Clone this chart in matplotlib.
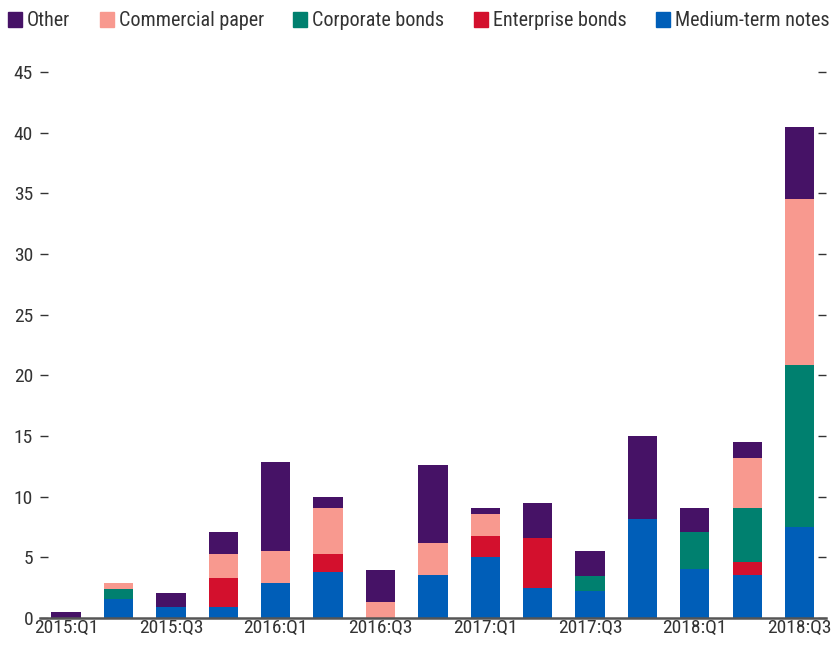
import numpy as np
import matplotlib
matplotlib.use("Agg")
import matplotlib.pyplot as plt
from matplotlib.patches import Patch

plt.rcParams['font.family'] = ['Roboto Condensed', 'Liberation Sans', 'DejaVu Sans']

# Quarterly issuance, stacked from the bottom up
quarters = ["2015:Q1", "2015:Q2", "2015:Q3", "2015:Q4",
            "2016:Q1", "2016:Q2", "2016:Q3", "2016:Q4",
            "2017:Q1", "2017:Q2", "2017:Q3", "2017:Q4",
            "2018:Q1", "2018:Q2", "2018:Q3"]
medium_term = [0.0, 1.6, 0.9, 0.9, 2.9, 3.8, 0.0, 3.55, 5.0, 2.5, 2.2, 8.15, 4.0, 3.55, 7.5]
enterprise = [0.0, 0.0, 0.0, 2.4, 0.0, 1.45, 0.0, 0.0, 1.8, 4.1, 0.0, 0.0, 0.0, 1.1, 0.0]
corporate = [0.0, 0.8, 0.0, 0.0, 0.0, 0.0, 0.0, 0.0, 0.0, 0.0, 1.3, 0.0, 3.1, 4.4, 13.35]
commercial = [0.0, 0.5, 0.0, 2.0, 2.6, 3.8, 1.3, 2.6, 1.75, 0.0, 0.0, 0.0, 0.0, 4.1, 13.7]
other = [0.5, 0.0, 1.15, 1.8, 7.35, 0.9, 2.65, 6.45, 0.5, 2.85, 2.0, 6.85, 2.0, 1.35, 5.95]

series = [
    ("Medium-term notes", medium_term, "#005EB8"),
    ("Enterprise bonds", enterprise, "#D3102D"),
    ("Corporate bonds", corporate, "#00806F"),
    ("Commercial paper", commercial, "#F8998F"),
    ("Other", other, "#461266"),
]

fig = plt.figure(figsize=(8.36, 6.45), dpi=100)
ax = fig.add_axes([0.0478, 0.0419, 0.940, 0.896])

x = np.arange(len(quarters))
bottom = np.zeros(len(quarters))
for name, vals, color in series:
    vals = np.array(vals)
    ax.bar(x, vals, width=0.56, bottom=bottom, color=color, label=name, zorder=2)
    bottom += vals

ax.set_xlim(-0.5, len(quarters) - 0.5)
ax.set_ylim(0, 47.65)
ax.set_yticks(range(0, 50, 5))
ax.set_xticks(x[::2])
ax.set_xticklabels(quarters[::2])

for side in ("top", "left", "right"):
    ax.spines[side].set_visible(False)
ax.spines["bottom"].set_color("#555555")
ax.spines["bottom"].set_linewidth(1.8)
ax.spines["bottom"].set_zorder(3)

ax.tick_params(axis="y", direction="in", length=6, width=1, color="#333333",
               labelsize=14, labelcolor="#333333", left=True, right=True, pad=5)
ax.tick_params(axis="x", length=0, labelsize=14, labelcolor="#333333", pad=1)

# legend order runs top of stack first
handles = [Patch(color=c, label=n) for n, _, c in series[::-1]]
fig.legend(handles=handles, loc="center", bbox_to_anchor=(0.501, 1 - 21 / 645),
           ncol=5, frameon=False, fontsize=14.5, handlelength=0.7, handleheight=0.7,
           handletextpad=0.25, columnspacing=1.45, labelcolor="#333333")

fig.savefig("out.png", dpi=100)
